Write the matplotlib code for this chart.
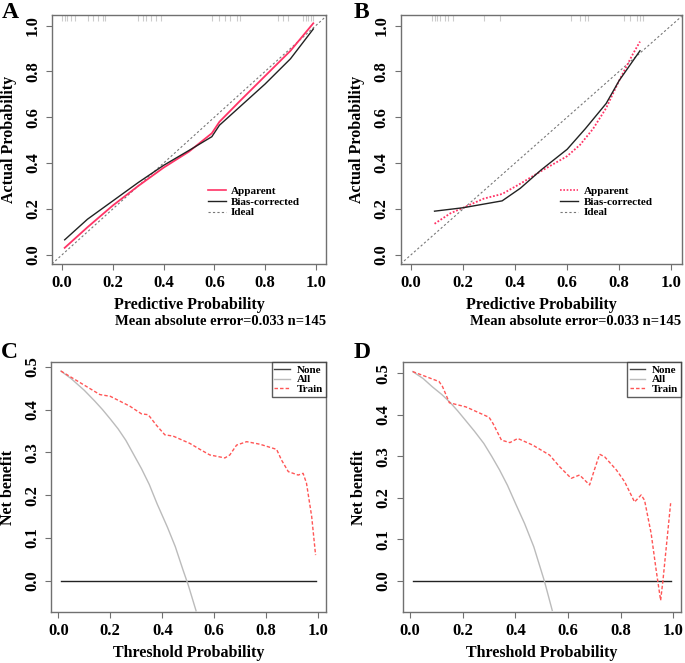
import numpy as np
import matplotlib
matplotlib.use("Agg")
import matplotlib.pyplot as plt
from matplotlib.lines import Line2D

plt.rcParams['font.family'] = ['Liberation Serif', 'DejaVu Serif']
plt.rcParams['font.weight'] = 'bold'

# ---- Panel A: calibration, training ----
a_x = [0.01, 0.10, 0.20, 0.30, 0.40, 0.50, 0.59, 0.62, 0.70, 0.80, 0.90, 0.99]
a_apparent = [0.03, 0.12, 0.215, 0.30, 0.38, 0.45, 0.53, 0.58, 0.67, 0.78, 0.89, 1.01]
a_bias = [0.065, 0.155, 0.235, 0.315, 0.39, 0.455, 0.515, 0.565, 0.645, 0.745, 0.855, 0.985]
a_rug = [0.0, 0.01, 0.02, 0.035, 0.05, 0.10, 0.12, 0.14, 0.16, 0.17, 0.30, 0.32, 0.33,
         0.35, 0.37, 0.39, 0.59, 0.62, 0.64, 0.66, 0.69, 0.70, 0.85, 0.87, 0.89, 0.95,
         0.96, 0.97, 0.98, 0.99]

# ---- Panel B: calibration, validation ----
b_app_x = [0.09, 0.15, 0.20, 0.28, 0.35, 0.42, 0.50, 0.60, 0.65, 0.70, 0.75, 0.80, 0.85, 0.88]
b_apparent = [0.135, 0.18, 0.205, 0.245, 0.265, 0.31, 0.365, 0.43, 0.48, 0.55, 0.64, 0.76, 0.87, 0.93]
b_bias_x = [0.09, 0.20, 0.35, 0.42, 0.50, 0.60, 0.67, 0.75, 0.80, 0.88]
b_bias = [0.19, 0.205, 0.235, 0.29, 0.37, 0.46, 0.55, 0.66, 0.76, 0.89]
b_rug = [0.08, 0.09, 0.10, 0.11, 0.13, 0.14, 0.16, 0.28, 0.34, 0.615, 0.65, 0.67, 0.68,
         0.82, 0.84, 0.87, 0.88, 0.89]

# ---- Panel C: decision curve, training ----
c_all_x = [0.01, 0.05, 0.10, 0.14, 0.17, 0.20, 0.23, 0.26, 0.29, 0.32, 0.35, 0.38,
           0.42, 0.45, 0.48, 0.50, 0.53]
c_all = [0.49, 0.472, 0.445, 0.42, 0.40, 0.378, 0.355, 0.328, 0.295, 0.262, 0.225, 0.18,
         0.125, 0.08, 0.025, -0.01, -0.07]
c_train_x = [0.01, 0.10, 0.16, 0.20, 0.275, 0.32, 0.346, 0.378, 0.41, 0.442, 0.506, 0.545,
             0.583, 0.641, 0.66, 0.686, 0.725, 0.776, 0.84, 0.859, 0.885, 0.923, 0.942,
             0.955, 0.975, 0.99]
c_train = [0.49, 0.457, 0.435, 0.431, 0.408, 0.39, 0.388, 0.363, 0.341, 0.338, 0.321, 0.307,
           0.294, 0.287, 0.294, 0.317, 0.325, 0.319, 0.307, 0.282, 0.255, 0.247, 0.251,
           0.228, 0.15, 0.06]

# ---- Panel D: decision curve, validation ----
d_all_x = [0.01, 0.05, 0.085, 0.12, 0.15, 0.18, 0.21, 0.245, 0.28, 0.31, 0.34, 0.37,
           0.40, 0.435, 0.47, 0.51, 0.54]
d_all = [0.504, 0.487, 0.467, 0.449, 0.431, 0.41, 0.387, 0.36, 0.331, 0.30, 0.267, 0.23,
         0.187, 0.138, 0.082, 0.0, -0.071]
d_train_x = [0.01, 0.11, 0.123, 0.149, 0.212, 0.30, 0.315, 0.347, 0.379, 0.409, 0.466, 0.53,
             0.568, 0.612, 0.644, 0.682, 0.70, 0.72, 0.739, 0.784, 0.815, 0.853, 0.878,
             0.891, 0.916, 0.935, 0.952, 0.961, 0.99]
d_train = [0.504, 0.48, 0.468, 0.429, 0.419, 0.394, 0.379, 0.339, 0.333, 0.343, 0.327, 0.303,
           0.275, 0.247, 0.255, 0.231, 0.267, 0.305, 0.299, 0.267, 0.239, 0.19, 0.207,
           0.194, 0.114, 0.026, -0.047, 0.002, 0.187]

threshold_range = [0.01, 0.99]
ticks01 = [0.0, 0.2, 0.4, 0.6, 0.8, 1.0]
dca_yticks = [0.0, 0.1, 0.2, 0.3, 0.4, 0.5]

FRAME = '#707070'
APP_RED = '#FF3366'
TRAIN_RED = '#FF5555'


def style_axes(ax, yticks):
    for s in ax.spines.values():
        s.set_color(FRAME)
        s.set_linewidth(1.0)
    ax.set_xticks(ticks01)
    ax.set_yticks(yticks)
    ax.set_xticklabels([f"{t:.1f}" for t in ticks01])
    ax.set_yticklabels([f"{t:.1f}" for t in yticks], rotation=90, va='center')
    ax.tick_params(length=4.5, width=0.8, color=FRAME, labelsize=12, pad=3.5)
    for lab in ax.get_xticklabels() + ax.get_yticklabels():
        lab.set_fontweight('bold')


def axis_titles(ax, xlabel, ylabel):
    # positions in axes fraction
    ax.text(0.5, -0.165, xlabel, transform=ax.transAxes, ha='center', va='center',
            fontsize=11.5, fontweight='bold')
    ax.text(-0.157, 0.5, ylabel, transform=ax.transAxes, ha='center', va='center',
            rotation=90, fontsize=11.5, fontweight='bold')


fig = plt.figure(figsize=(6.85, 6.63), dpi=100)
axA = fig.add_axes([0.0759, 0.602, 0.400, 0.375])
axB = fig.add_axes([0.585, 0.602, 0.410, 0.375])
axC = fig.add_axes([0.0745, 0.0769, 0.401, 0.377])
axD = fig.add_axes([0.588, 0.0769, 0.406, 0.377])


def calib_panel(ax, rug, app_x, app_y, bias_x, bias_y, app_style):
    ax.set_xlim(-0.04, 1.04)
    ax.set_ylim(-0.04, 1.045)
    ax.axline((0, 0), slope=1, color='#777777', lw=0.8, ls=(0, (2, 2)))
    ax.plot(app_x, app_y, color=APP_RED, lw=1.3, ls=app_style)
    ax.plot(bias_x, bias_y, color='#222222', lw=1.0)
    ax.vlines(rug, 0.975, 1.0, transform=ax.get_xaxis_transform(),
              color='#CCCCCC', lw=0.8)
    style_axes(ax, ticks01)
    axis_titles(ax, "Predictive Probability", "Actual Probability")
    ax.text(1.0, -0.233, "Mean absolute error=0.033 n=145", transform=ax.transAxes,
            ha='right', va='center', fontsize=10.5, fontweight='bold')
    handles = [Line2D([], [], color=APP_RED, lw=1.2, ls=app_style),
               Line2D([], [], color='#222222', lw=1.0),
               Line2D([], [], color='#777777', lw=0.8, ls=(0, (2, 2)))]
    ax.legend(handles, ["Apparent", "Bias-corrected", "Ideal"], loc='upper left',
              bbox_to_anchor=(0.54, 0.345), frameon=False, handlelength=1.6,
              handletextpad=0.5, labelspacing=0.1, borderpad=0.2,
              prop={'size': 8, 'weight': 'bold'})


def dca_panel(ax, all_x, all_y, tr_x, tr_y, ylim):
    ax.set_xlim(-0.028, 1.029)
    ax.set_ylim(*ylim)
    ax.plot(threshold_range, [0, 0], color='#222222', lw=1.0)
    ax.plot(all_x, all_y, color='#BBBBBB', lw=1.0)
    ax.plot(tr_x, tr_y, color=TRAIN_RED, lw=1.0, ls=(0, (2.5, 1.5)))
    style_axes(ax, dca_yticks)
    axis_titles(ax, "Threshold Probability", "Net benefit")
    handles = [Line2D([], [], color='#444444', lw=1.0),
               Line2D([], [], color='#BBBBBB', lw=1.0),
               Line2D([], [], color=TRAIN_RED, lw=1.0, ls=(0, (2.5, 1.5)))]
    leg = ax.legend(handles, ["None", "All", "Train"], loc='upper right',
                    bbox_to_anchor=(1.0, 1.0), frameon=True, fancybox=False,
                    handlelength=1.4, handletextpad=0.6, labelspacing=0.0,
                    borderpad=0.25, borderaxespad=0.0,
                    prop={'size': 8, 'weight': 'bold'})
    leg.get_frame().set_edgecolor('#333333')
    leg.get_frame().set_linewidth(1.0)


calib_panel(axA, a_rug, a_x, a_apparent, a_x, a_bias, '-')
calib_panel(axB, b_rug, b_app_x, b_apparent, b_bias_x, b_bias, (0, (1, 1)))
dca_panel(axC, c_all_x, c_all, c_train_x, c_train, (-0.073, 0.511))
dca_panel(axD, d_all_x, d_all, d_train_x, d_train, (-0.075, 0.527))

for letter, x, y in [("A", 10, 12), ("B", 361, 12), ("C", 9, 353), ("D", 362, 353)]:
    fig.text(x / 685, 1 - y / 663, letter, ha='center', va='center',
             fontsize=17, fontweight='bold')

fig.savefig("out.png", dpi=100)
